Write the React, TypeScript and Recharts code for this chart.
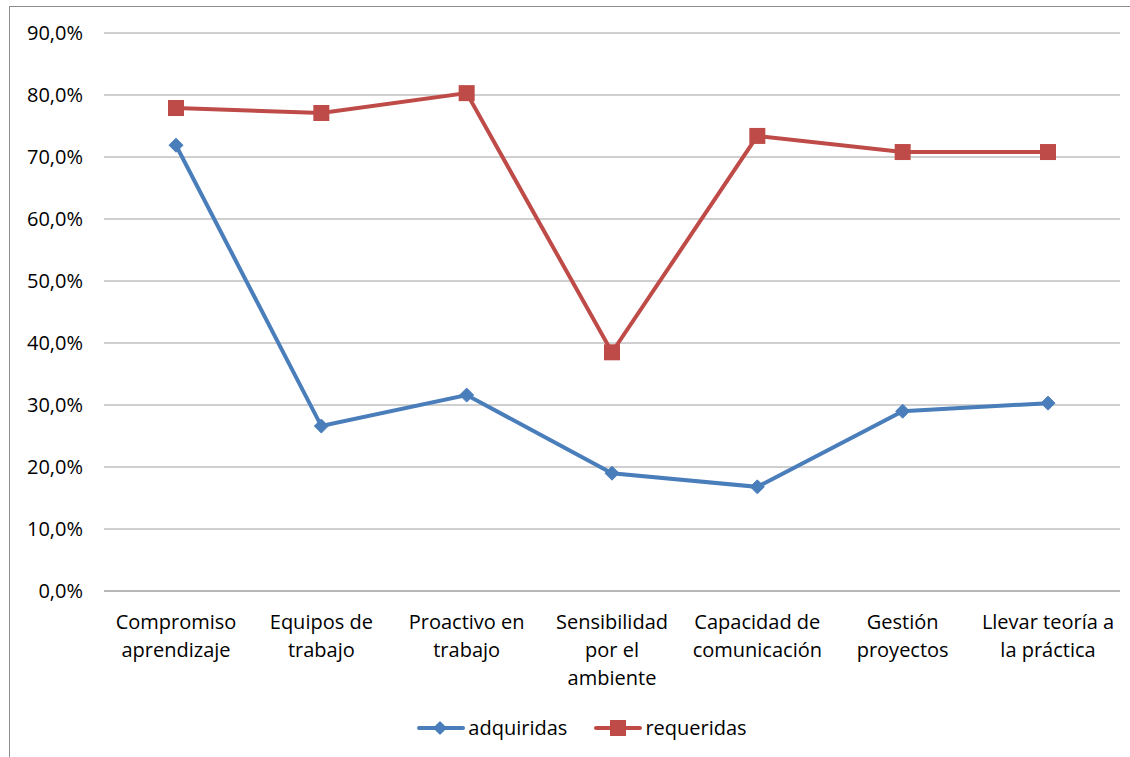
import React from 'react';
import { LineChart, Line, XAxis, YAxis, CartesianGrid, Legend } from 'recharts';

const categories = [
  'Compromiso\naprendizaje',
  'Equipos de\ntrabajo',
  'Proactivo en\ntrabajo',
  'Sensibilidad\npor el\nambiente',
  'Capacidad de\ncomunicación',
  'Gestión\nproyectos',
  'Llevar teoría a\nla práctica',
];
const adquiridas = [71.9, 26.6, 31.6, 19.0, 16.8, 29.0, 30.3];
const requeridas = [77.9, 77.1, 80.3, 38.5, 73.4, 70.8, 70.8];
const yTicks = [0, 10, 20, 30, 40, 50, 60, 70, 80, 90];

const BLUE = '#4A7EBB';
const RED = '#BE4B48';
const FONT = '"Open Sans", Lato, sans-serif';

const data = categories.map((name, i) => ({
  name,
  adquiridas: adquiridas[i],
  requeridas: requeridas[i],
}));

const fmt = (v: number) => `${v.toFixed(1).replace('.', ',')}%`;

const Diamond = (props: any) => {
  const { cx, cy } = props;
  if (cx == null || cy == null) return null;
  const r = 7;
  return (
    <polygon
      points={`${cx},${cy - r} ${cx + r},${cy} ${cx},${cy + r} ${cx - r},${cy}`}
      fill={BLUE}
      stroke={BLUE}
      strokeWidth={1}
    />
  );
};

const Square = (props: any) => {
  const { cx, cy } = props;
  if (cx == null || cy == null) return null;
  const s = 8;
  return <rect x={cx - s} y={cy - s} width={s * 2} height={s * 2} fill={RED} />;
};

const XTick = (props: any) => {
  const { x, y, payload } = props;
  const lines = String(payload.value).split('\n');
  return (
    <text x={x} y={y} textAnchor="middle" fill="#000" fontSize={20} fontFamily={FONT}>
      {lines.map((l, i) => (
        <tspan key={i} x={x} y={y + 30 + i * 28}>
          {l}
        </tspan>
      ))}
    </text>
  );
};

const LegendContent = () => (
  <div
    style={{
      display: 'flex',
      justifyContent: 'center',
      alignItems: 'center',
      paddingLeft: 20,
      marginTop: -2,
      fontFamily: FONT,
      fontSize: 20,
      color: '#000',
    }}
  >
    <svg width={48} height={16} style={{ marginRight: 3 }}>
      <line x1={2} y1={8} x2={46} y2={8} stroke={BLUE} strokeWidth={4} strokeLinecap="round" />
      <polygon points="23,1 30,8 23,15 16,8" fill={BLUE} />
    </svg>
    <span style={{ marginRight: 27 }}>adquiridas</span>
    <svg width={48} height={16} style={{ marginRight: 3 }}>
      <line x1={2} y1={8} x2={46} y2={8} stroke={RED} strokeWidth={4} strokeLinecap="round" />
      <rect x={16} y={0} width={16} height={16} fill={RED} />
    </svg>
    <span>requeridas</span>
  </div>
);

export default function App() {
  return (
    <div
      style={{
        position: 'absolute',
        left: 9,
        top: 6,
        width: 1140,
        height: 770,
        border: '1px solid #8c8c8c',
        background: '#fff',
      }}
    >
      <LineChart
        width={1120}
        height={750}
        data={data}
        margin={{ top: 26, right: 10, bottom: 5, left: 14 }}
      >
        <CartesianGrid vertical={false} stroke="#a0a0a0" strokeWidth={1} />
        <XAxis
          dataKey="name"
          axisLine={{ stroke: '#a0a0a0' }}
          tickLine={false}
          tick={<XTick />}
          interval={0}
          height={125}
          padding={{ left: 72, right: 72 }}
        />
        <YAxis
          domain={[0, 90]}
          ticks={yTicks}
          tickFormatter={fmt}
          axisLine={false}
          tickLine={false}
          width={80}
          tick={{ fill: '#000', fontSize: 20, fontFamily: FONT }}
          tickMargin={15}
        />
        <Legend verticalAlign="bottom" height={36} content={<LegendContent />} />
        <Line
          dataKey="adquiridas"
          stroke={BLUE}
          strokeWidth={4}
          dot={<Diamond />}
          activeDot={false}
          isAnimationActive={false}
        />
        <Line
          dataKey="requeridas"
          stroke={RED}
          strokeWidth={4}
          dot={<Square />}
          activeDot={false}
          isAnimationActive={false}
        />
      </LineChart>
    </div>
  );
}
